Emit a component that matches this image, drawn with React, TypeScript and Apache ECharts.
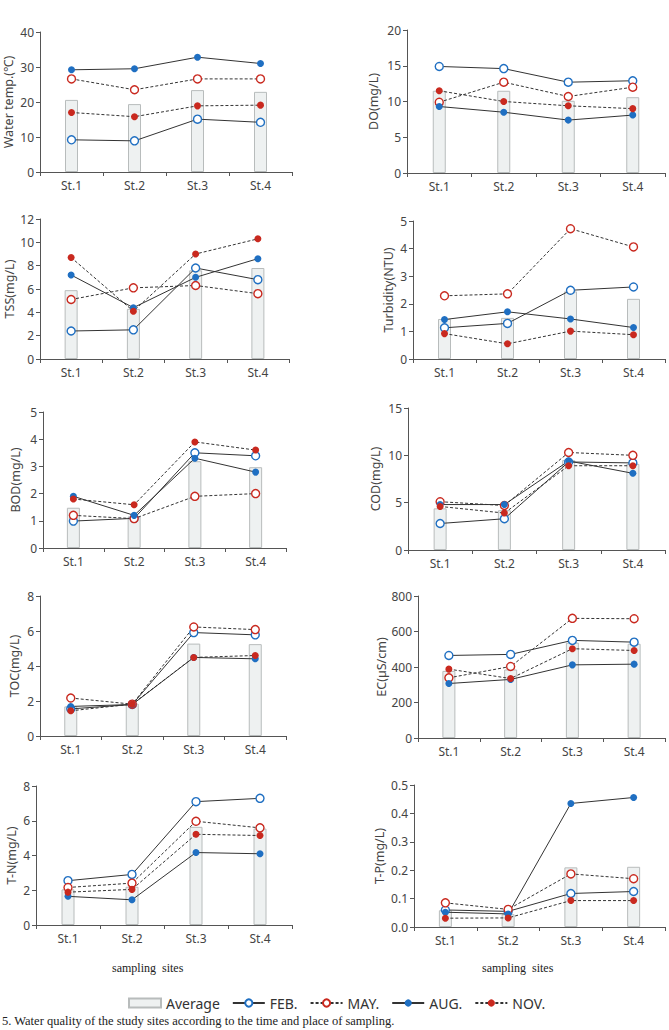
import React, { useEffect, useRef } from "react";
import * as echarts from "echarts";

const sites = ["St.1", "St.2", "St.3", "St.4"];

// Water temperature (℃)
const tempAvg = [20.6, 19.4, 23.4, 22.9];
const tempFeb = [9.2, 8.9, 15.1, 14.2];
const tempMay = [26.6, 23.5, 26.6, 26.6];
const tempAug = [29.2, 29.5, 32.8, 31.0];
const tempNov = [17.0, 15.8, 18.9, 19.1];

// DO (mg/L)
const doAvg = [11.5, 11.5, 10.1, 10.6];
const doFeb = [14.9, 14.6, 12.7, 12.9];
const doMay = [9.9, 12.7, 10.7, 12.0];
const doAug = [9.3, 8.5, 7.4, 8.1];
const doNov = [11.5, 10.0, 9.4, 9.0];

// TSS (mg/L)
const tssAvg = [5.9, 4.3, 7.6, 7.8];
const tssFeb = [2.4, 2.5, 7.8, 6.8];
const tssMay = [5.1, 6.1, 6.3, 5.6];
const tssAug = [7.2, 4.4, 7.0, 8.6];
const tssNov = [8.7, 4.1, 9.0, 10.3];

// Turbidity (NTU)
const turbAvg = [1.45, 1.49, 2.45, 2.18];
const turbFeb = [1.13, 1.29, 2.49, 2.61];
const turbMay = [2.29, 2.36, 4.72, 4.06];
const turbAug = [1.43, 1.71, 1.45, 1.14];
const turbNov = [0.92, 0.55, 1.01, 0.88];

// BOD (mg/L)
const bodAvg = [1.48, 1.16, 3.19, 2.97];
const bodFeb = [0.99, 1.09, 3.5, 3.39];
const bodMay = [1.2, 1.08, 1.9, 2.0];
const bodAug = [1.9, 1.2, 3.3, 2.79];
const bodNov = [1.8, 1.59, 3.9, 3.6];

// COD (mg/L)
const codAvg = [4.4, 4.2, 9.5, 9.1];
const codFeb = [2.8, 3.3, 9.3, 9.2];
const codMay = [5.1, 4.7, 10.3, 10.0];
const codAug = [4.8, 4.8, 9.4, 8.1];
const codNov = [4.6, 3.9, 8.9, 8.9];

// TOC (mg/L)
const tocAvg = [1.69, 1.85, 5.28, 5.25];
const tocFeb = [1.55, 1.8, 5.91, 5.78];
const tocMay = [2.17, 1.82, 6.23, 6.08];
const tocAug = [1.69, 1.8, 4.49, 4.41];
const tocNov = [1.44, 1.82, 4.49, 4.6];

// EC (µS/cm)
const ecAvg = [378, 386, 537, 531];
const ecFeb = [465, 471, 550, 540];
const ecMay = [339, 403, 674, 672];
const ecAug = [307, 330, 412, 416];
const ecNov = [388, 335, 503, 493];

// T-N (mg/L)
const tnAvg = [2.05, 2.2, 5.65, 5.55];
const tnFeb = [2.55, 2.91, 7.1, 7.29];
const tnMay = [2.16, 2.41, 5.97, 5.59];
const tnAug = [1.65, 1.45, 4.17, 4.1];
const tnNov = [1.89, 2.05, 5.22, 5.15];

// T-P (mg/L)
const tpAvg = [0.059, 0.045, 0.21, 0.212];
const tpFeb = [0.06, 0.055, 0.118, 0.125];
const tpMay = [0.085, 0.062, 0.187, 0.17];
const tpAug = [0.052, 0.046, 0.435, 0.456];
const tpNov = [0.031, 0.032, 0.093, 0.093];

const panels = [
  { title: "Water temp.(℃)", max: 40, interval: 10, avg: tempAvg, feb: tempFeb, may: tempMay, aug: tempAug, nov: tempNov },
  { title: "DO(mg/L)", max: 20, interval: 5, avg: doAvg, feb: doFeb, may: doMay, aug: doAug, nov: doNov },
  { title: "TSS(mg/L)", max: 12, interval: 2, avg: tssAvg, feb: tssFeb, may: tssMay, aug: tssAug, nov: tssNov },
  { title: "Turbidity(NTU)", max: 5, interval: 1, avg: turbAvg, feb: turbFeb, may: turbMay, aug: turbAug, nov: turbNov },
  { title: "BOD(mg/L)", max: 5, interval: 1, avg: bodAvg, feb: bodFeb, may: bodMay, aug: bodAug, nov: bodNov },
  { title: "COD(mg/L)", max: 15, interval: 5, avg: codAvg, feb: codFeb, may: codMay, aug: codAug, nov: codNov },
  { title: "TOC(mg/L)", max: 8, interval: 2, avg: tocAvg, feb: tocFeb, may: tocMay, aug: tocAug, nov: tocNov },
  { title: "EC(µS/cm)", max: 800, interval: 200, avg: ecAvg, feb: ecFeb, may: ecMay, aug: ecAug, nov: ecNov },
  { title: "T-N(mg/L)", max: 8, interval: 2, avg: tnAvg, feb: tnFeb, may: tnMay, aug: tnAug, nov: tnNov },
  { title: "T-P(mg/L)", max: 0.5, interval: 0.1, avg: tpAvg, feb: tpFeb, may: tpMay, aug: tpAug, nov: tpNov, decimals: 1 },
];

// plot boxes: left, top, width, height, axis-name gap
const boxes = [
  [40, 32, 252, 140, 25],
  [407, 30, 258, 143, 27],
  [40, 219, 249, 140, 22],
  [413, 221, 252, 138, 18],
  [43, 412, 243, 136, 21],
  [408, 408, 257, 142, 26],
  [40, 596, 246, 140, 19],
  [418, 596, 247, 142, 30],
  [36, 786, 256, 139, 18],
  [414, 785, 251, 142, 28],
];

const FONT = "'Noto Sans', 'Open Sans', sans-serif";
const SERIF = "'Liberation Serif', 'DejaVu Serif', serif";
const AXIS = "#555";
const LINE = "#333";
const BLUE = "#1f6fc2";
const RED = "#c9291f";
const DASH = [3, 2];

export default function App() {
  const ref = useRef<HTMLDivElement>(null);

  useEffect(() => {
    if (!ref.current) return;
    const chart = echarts.init(ref.current, undefined, { renderer: "svg" });

    const grid: any[] = [];
    const xAxis: any[] = [];
    const yAxis: any[] = [];
    const series: any[] = [];

    panels.forEach((p, i) => {
      const [left, top, width, height, gap] = boxes[i];
      grid.push({ left, top, width, height });
      xAxis.push({
        type: "category",
        gridIndex: i,
        data: sites,
        axisLine: { lineStyle: { color: AXIS, width: 1 } },
        axisTick: { show: true, length: 4, lineStyle: { color: AXIS } },
        axisLabel: { color: "#444", fontSize: 12, fontFamily: FONT, margin: 7 },
      });
      yAxis.push({
        type: "value",
        gridIndex: i,
        min: 0,
        max: p.max,
        interval: p.interval,
        name: p.title,
        nameLocation: "middle",
        nameGap: gap,
        nameTextStyle: { color: "#444", fontSize: 12.5, fontFamily: FONT },
        axisLine: { show: true, lineStyle: { color: AXIS, width: 1 } },
        axisTick: { show: true, length: 4, lineStyle: { color: AXIS } },
        splitLine: { show: false },
        axisLabel: {
          color: "#444",
          fontSize: 12,
          fontFamily: FONT,
          margin: 6,
          formatter: (v: number) => (p.decimals ? v.toFixed(p.decimals) : String(v)),
        },
      });
      series.push({
        name: "Average",
        type: "bar",
        xAxisIndex: i,
        yAxisIndex: i,
        data: p.avg,
        barWidth: 13,
        itemStyle: { color: "#eef1f1", borderColor: "#b8bcbc", borderWidth: 1 },
        z: 1,
      });
      const lineDefs = [
        { name: "FEB.", data: p.feb, hollow: true, color: BLUE, dashed: false },
        { name: "MAY.", data: p.may, hollow: true, color: RED, dashed: true },
        { name: "AUG.", data: p.aug, hollow: false, color: BLUE, dashed: false },
        { name: "NOV.", data: p.nov, hollow: false, color: RED, dashed: true },
      ];
      lineDefs.forEach((d) => {
        series.push({
          name: d.name,
          type: "line",
          xAxisIndex: i,
          yAxisIndex: i,
          data: d.data,
          symbol: "circle",
          symbolSize: d.hollow ? 8 : 7,
          showAllSymbol: true,
          itemStyle: d.hollow
            ? { color: "#ffffff", borderColor: d.color, borderWidth: 1.4 }
            : { color: d.color, borderWidth: 0 },
          lineStyle: { color: LINE, width: 1, type: d.dashed ? DASH : "solid" },
          z: 3,
        });
      });
    });

    chart.setOption({
      animation: false,
      backgroundColor: "#ffffff",
      grid,
      xAxis,
      yAxis,
      series,
      legend: {
        left: 123,
        top: 991,
        itemWidth: 32,
        itemHeight: 9,
        itemGap: 12,
        textStyle: { color: "#333", fontSize: 14, fontFamily: FONT },
        data: [
          { name: "Average", icon: "rect" },
          { name: "FEB." },
          { name: "MAY." },
          { name: "AUG." },
          { name: "NOV." },
        ],
      },
      graphic: [
        {
          type: "text",
          left: 112,
          top: 962,
          style: { text: "sampling  sites", fill: "#222", fontSize: 12, fontFamily: SERIF },
        },
        {
          type: "text",
          left: 482,
          top: 962,
          style: { text: "sampling  sites", fill: "#222", fontSize: 12, fontFamily: SERIF },
        },
        {
          type: "text",
          left: 2,
          top: 1014,
          style: {
            text: "5. Water quality of the study sites according to the time and place of sampling.",
            fill: "#222",
            fontSize: 12.5,
            fontFamily: SERIF,
          },
        },
      ],
    });

    return () => chart.dispose();
  }, []);

  return (
    <div
      ref={ref}
      style={{ position: "fixed", left: 0, top: 0, width: 669, height: 1030, background: "#fff" }}
    />
  );
}
